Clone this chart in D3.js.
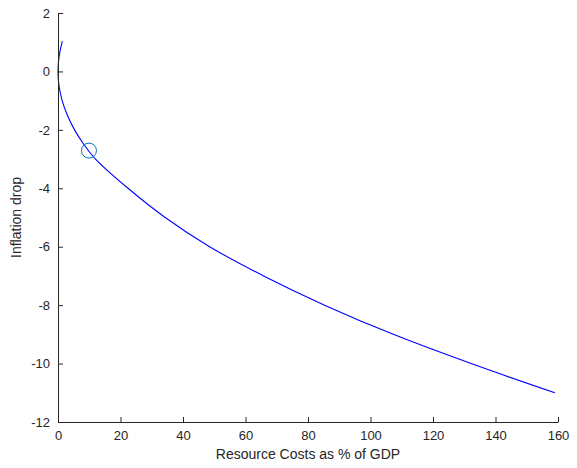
<!DOCTYPE html>
<html>
<head>
<meta charset="utf-8">
<script src="https://cdn.jsdelivr.net/npm/d3@7"></script>
<style>
  body { margin: 0; background: #fff; }
  svg text { font-family: "Liberation Sans", Arial, sans-serif; fill: #262626; }
</style>
</head>
<body>
<svg id="chart" width="577" height="468"></svg>
<script>
// curve points (resource cost %, inflation drop)
const costPct = [1.38, 0.33, 0, 0.33, 1.33, 3.0, 5.3, 8.3, 12, 22.4, 34.3, 48.5, 65.8, 85.3, 107.3, 132.2, 159];
const inflDrop = [1.04, 0.5, 0, -0.5, -1, -1.5, -2, -2.5, -3, -4, -5, -6, -7, -8, -9, -10, -11];

// highlighted point
const markX = [9.9];
const markY = [-2.71];

const xTicks = [0, 20, 40, 60, 80, 100, 120, 140, 160];
const yTicks = [-12, -10, -8, -6, -4, -2, 0, 2];

const margin = { left: 58, right: 19, top: 13, bottom: 46 };
const W = 577, H = 468;

const svg = d3.select('#chart');

const x = d3.scaleLinear().domain([0, 160]).range([margin.left, W - margin.right]);
const y = d3.scaleLinear().domain([-12, 2]).range([H - margin.bottom, margin.top]);

const pts = costPct.map((c, i) => [c, inflDrop[i]]);

svg.append('path')
  .datum(pts)
  .attr('fill', 'none')
  .attr('stroke', '#0000ff')
  .attr('stroke-width', 1.1)
  .attr('d', d3.line().x(d => x(d[0])).y(d => y(d[1])).curve(d3.curveCatmullRom.alpha(0.5)));

svg.selectAll('circle.mark')
  .data(markX.map((m, i) => [m, markY[i]]))
  .join('circle')
  .attr('class', 'mark')
  .attr('cx', d => x(d[0]))
  .attr('cy', d => y(d[1]))
  .attr('r', 7.5)
  .attr('fill', 'none')
  .attr('stroke', '#0072bd')
  .attr('stroke-width', 1);

// axes, ticks point inward like matlab; plain hyphen for minus
const fmt = d => String(d);

const xAxis = svg.append('g')
  .attr('transform', `translate(0,${H - margin.bottom})`)
  .call(d3.axisBottom(x).tickValues(xTicks).tickFormat(fmt).tickSizeInner(-5).tickSizeOuter(0).tickPadding(9));

const yAxis = svg.append('g')
  .attr('transform', `translate(${margin.left},0)`)
  .call(d3.axisLeft(y).tickValues(yTicks).tickFormat(fmt).tickSizeInner(-5).tickSizeOuter(0).tickPadding(8));

[xAxis, yAxis].forEach(g => {
  g.select('.domain').attr('stroke', '#262626').attr('stroke-width', 1);
  g.selectAll('.tick line').attr('stroke', '#262626');
  g.selectAll('.tick text')
    .attr('font-size', 13)
    .attr('font-family', '"Liberation Sans", Arial, sans-serif')
    .attr('fill', '#262626');
});

svg.append('text')
  .attr('x', x(80))
  .attr('y', 459)
  .attr('text-anchor', 'middle')
  .attr('font-size', 14)
  .text('Resource Costs as % of GDP');

svg.append('text')
  .attr('transform', `translate(21,${y(-5)}) rotate(-90)`)
  .attr('text-anchor', 'middle')
  .attr('font-size', 14)
  .text('Inflation drop');
</script>
</body>
</html>
